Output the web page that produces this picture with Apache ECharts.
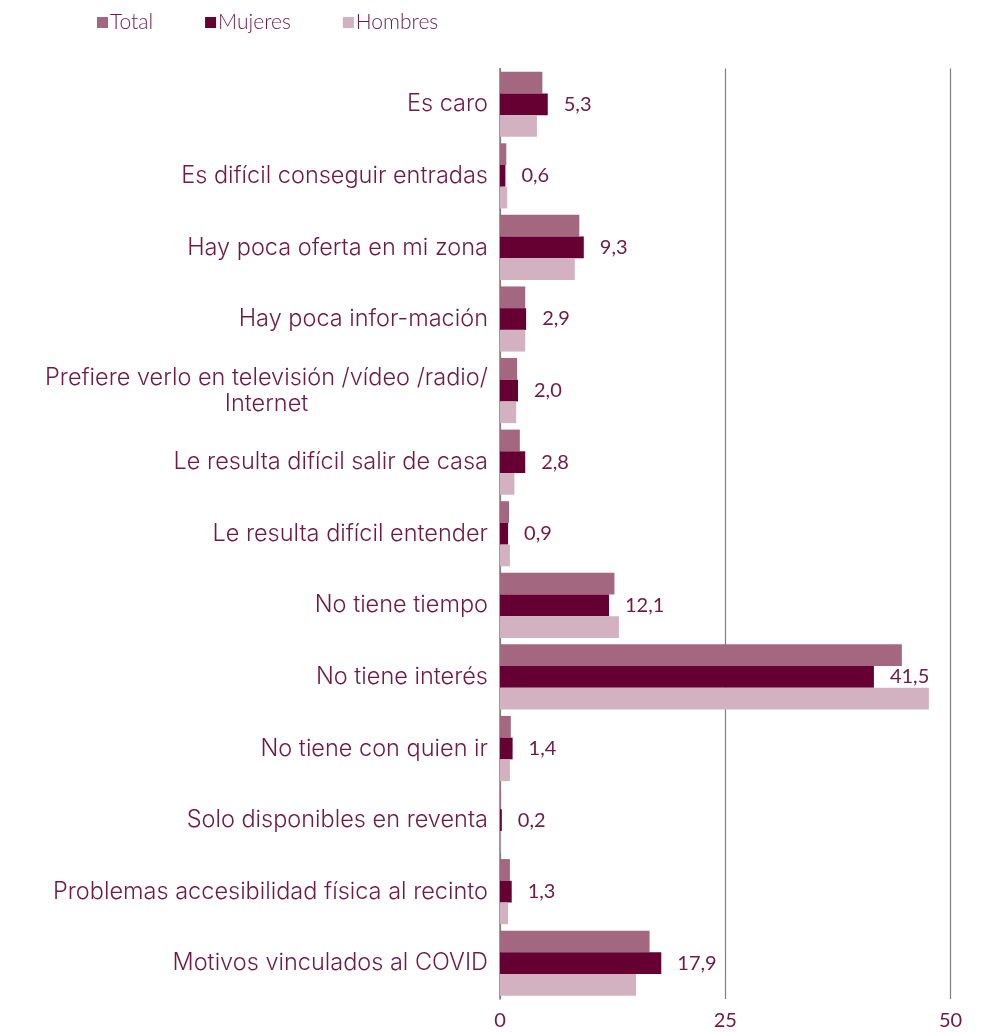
<!DOCTYPE html>
<html><head><meta charset="utf-8">
<script src="https://cdn.jsdelivr.net/npm/echarts@6/dist/echarts.min.js"></script>
<style>html,body{margin:0;padding:0;background:#fff}#c{width:981px;height:1032px}</style>
</head><body><div id="c"></div>
<script>
const categories = [
  'Es caro',
  'Es difícil conseguir entradas',
  'Hay poca oferta en mi zona',
  'Hay poca infor-mación',
  'Prefiere verlo en televisión /vídeo /radio/\nInternet',
  'Le resulta difícil salir de casa',
  'Le resulta difícil entender',
  'No tiene tiempo',
  'No tiene interés',
  'No tiene con quien ir',
  'Solo disponibles en reventa',
  'Problemas accesibilidad física al recinto',
  'Motivos vinculados al COVID'
];
const total   = [4.7, 0.7, 8.8, 2.8, 1.9, 2.2, 1.0, 12.7, 44.6, 1.2, 0.1, 1.1, 16.6];
const mujeres = [5.3, 0.6, 9.3, 2.9, 2.0, 2.8, 0.9, 12.1, 41.5, 1.4, 0.2, 1.3, 17.9];
const hombres = [4.1, 0.8, 8.3, 2.8, 1.8, 1.6, 1.1, 13.2, 47.6, 1.1, 0.05, 0.9, 15.1];
const xTicks = [0, 25, 50];

const TXT = '#6E1A45';
const FONT = 'Lato';
const CATFONT = 'Inter';
const CATSIZE = 23.5;
const CATWEIGHT = 300;

const cv = document.createElement('canvas').getContext('2d');
cv.font = CATWEIGHT + ' ' + CATSIZE + 'px "' + CATFONT + '"';
function lineW(s) { return Math.ceil(cv.measureText(s).width); }

const chart = echarts.init(document.getElementById('c'));
chart.setOption({
  animation: false,
  textStyle: { fontFamily: FONT, color: TXT },
  legend: {
    data: ['Total', 'Mujeres', 'Hombres'],
    left: 92, top: 7,
    itemWidth: 11, itemHeight: 11, itemGap: 52,
    icon: 'rect',
    textStyle: { fontSize: 21, color: TXT, fontFamily: FONT, fontWeight: 300, padding: [0,0,0,-3] }
  },
  grid: { left: 500, right: 30.5, top: 68.5, bottom: 33, containLabel: false },
  xAxis: {
    type: 'value', min: 0, max: 50, interval: 25,
    axisLine: { show: false }, axisTick: { show: false },
    splitLine: { show: true, lineStyle: { color: '#7f7f7f', width: 1.2 } },
    axisLabel: { fontSize: 20, color: TXT, fontFamily: FONT, margin: 12,
      formatter: v => xTicks.includes(v) ? String(v) : '' }
  },
  yAxis: {
    type: 'category', data: categories, inverse: true,
    axisLine: { show: true, lineStyle: { color: '#808080', width: 1.5 } },
    axisTick: { show: false },
    axisLabel: {
      fontSize: CATSIZE, color: TXT, fontFamily: CATFONT, fontWeight: CATWEIGHT, margin: 12, lineHeight: 26,
      formatter: function (v) {
        if (v.indexOf('\n') >= 0) {
          return v.split('\n').map(s => '{c|' + s + '}').join('\n');
        }
        return v;
      },
      rich: { c: { width: lineW('Prefiere verlo en televisión /vídeo /radio/'), align: 'center', fontSize: CATSIZE,
        color: TXT, fontFamily: CATFONT, fontWeight: CATWEIGHT, lineHeight: 26 } }
    }
  },
  series: [
    { name: 'Total', type: 'bar', data: total, barGap: '0%', barCategoryGap: '9%',
      itemStyle: { color: '#A3677F' } },
    { name: 'Mujeres', type: 'bar', data: mujeres, barGap: '0%', barCategoryGap: '9%',
      itemStyle: { color: '#660033' },
      label: { show: true, position: 'right', distance: 16, fontSize: 20, color: TXT, fontFamily: FONT,
        formatter: p => p.value.toFixed(1).replace('.', ',') } },
    { name: 'Hombres', type: 'bar', data: hombres, barGap: '0%', barCategoryGap: '9%',
      itemStyle: { color: '#D2B2C1' } }
  ]
});
</script></body></html>
